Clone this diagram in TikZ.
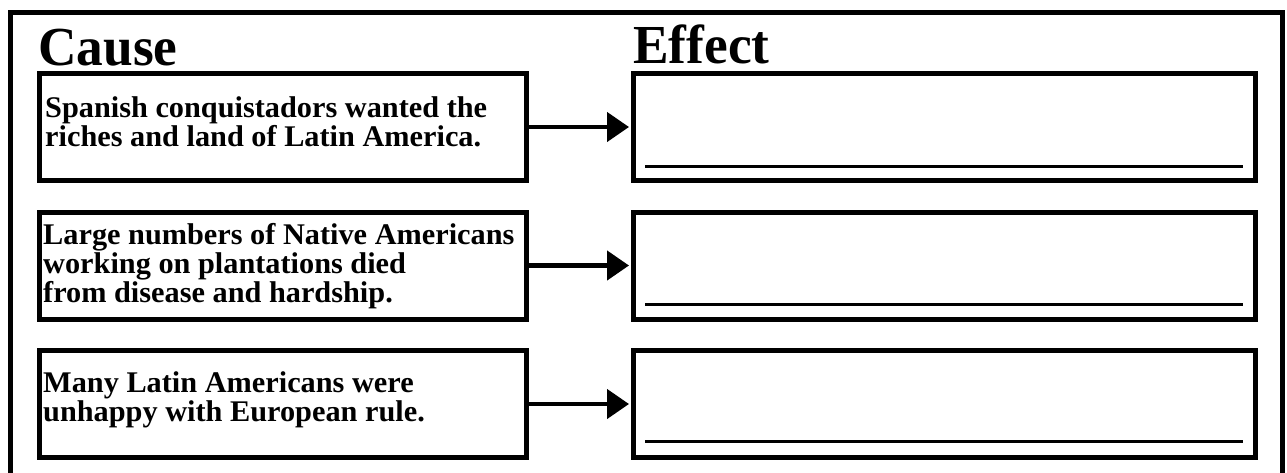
\documentclass[tikz,border=0pt]{standalone}
\usepackage{fontspec}
\setmainfont{Liberation Serif}[FakeStretch=1.01]
\newfontfamily\titlefont{Liberation Serif}[FakeStretch=0.97]
\usetikzlibrary{arrows.meta}
\tikzset{
  boxstyle/.style={draw=black, line width=5pt, inner sep=0pt, minimum height=107pt},
  causebox/.style={boxstyle, minimum width=487pt},
  effectbox/.style={boxstyle, minimum width=622pt},
  boxtext/.style={anchor=base west, inner sep=0pt, align=left,
    font=\fontsize{30}{29}\selectfont\bfseries},
  titletext/.style={anchor=base west, inner sep=0pt,
    font=\titlefont\fontsize{55}{60}\selectfont\bfseries},
  arr/.style={line width=4.5pt, -{Triangle[length=22pt,width=29pt]}, shorten >=2pt},
  answerline/.style={line width=3pt}
}
\begin{document}
\begin{tikzpicture}[x=1pt,y=-1pt]
\useasboundingbox (0,0) rectangle (1287,472);
\draw[line width=5pt] (10.5,12) rectangle (1282.5,480);
\node[titletext] (tc) at (38,65) {Cause};
\node[titletext] (te) at (633,63) {Effect};
\node[causebox] (c1) at (283,127) {};
\node[causebox] (c2) at (283,265.5) {};
\node[causebox] (c3) at (283,404) {};
\node[effectbox] (e1) at (944.5,127) {};
\node[effectbox] (e2) at (944.5,265.5) {};
\node[effectbox] (e3) at (944.5,404) {};
\node[boxtext] (t1) at (45,146) {Spanish conquistadors wanted the\\riches and land of Latin America.};
\node[boxtext] (t2) at (43,302) {Large numbers of Native Americans\\working on plantations died\\from disease and hardship.};
\node[boxtext] (t3) at (43,421) {Many Latin Americans were\\unhappy with European rule.};
\draw[arr] (c1.east) -- (e1.west);
\draw[arr] (c2.east) -- (e2.west);
\draw[arr] (c3.east) -- (e3.west);
\coordinate (l1a) at (645,166); \coordinate (l1b) at (1243,166);
\coordinate (l2a) at (645,304.5); \coordinate (l2b) at (1243,304.5);
\coordinate (l3a) at (645,441); \coordinate (l3b) at (1243,441);
\draw[answerline] (l1a) -- (l1b);
\draw[answerline] (l2a) -- (l2b);
\draw[answerline] (l3a) -- (l3b);
\end{tikzpicture}
\end{document}
